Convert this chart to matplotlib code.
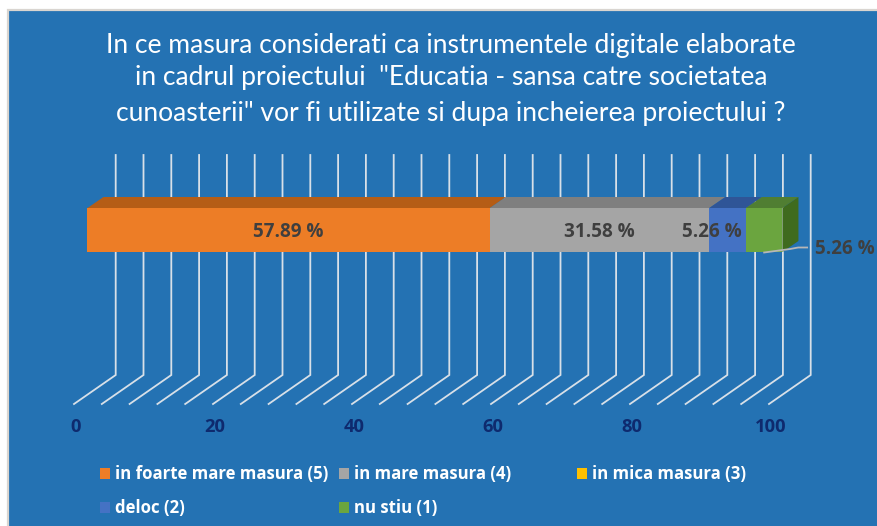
import matplotlib
matplotlib.use("Agg")
import matplotlib.pyplot as plt
from matplotlib.patches import Polygon, Rectangle

title_lines = ["In ce masura considerati ca instrumentele digitale elaborate",
               "in cadrul proiectului  \"Educatia - sansa catre societatea",
               "cunoasterii\" vor fi utilizate si dupa incheierea proiectului ?"]
categories = ["in foarte mare masura (5)", "in mare masura (4)", "in mica masura (3)", "deloc (2)", "nu stiu (1)"]
values = [57.89, 31.58, 0, 5.26, 5.26]
front_colors = ["#ED7D26", "#A5A5A5", "#FFC000", "#4472C4", "#6BA53F"]
top_colors = ["#B55D16", "#7F7F7F", "#BF9000", "#2F5597", "#507E32"]
x_ticks = [0, 20, 40, 60, 80, 100]
grid_values = list(range(0, 101, 4))

W, H = 878, 526
PX = 6.95  # pixels per value unit
X0 = 87.5  # pixel of value 0 on the bar front

fig = plt.figure(figsize=(W / 100, H / 100), dpi=100, facecolor="white")
ax = fig.add_axes([0, 0, 1, 1])
ax.set_xlim(-X0 / PX, (W - X0) / PX)
ax.set_ylim(H, 0)
ax.axis("off")

def u(px):
    return px / PX

# panel
ax.add_patch(Rectangle((u(8 - X0), 10), u(W + 5), H, fc="#2472B3", ec="#D9D5D0", lw=1.6, zorder=0))

# grid walls
for v in grid_values:
    ax.plot([v + u(-13.5), v + u(28.2), v + u(28.2)], [404, 375, 155],
            color="#D8E0E8", lw=1.3, zorder=1, solid_joinstyle="miter")

# stacked 3D bar
bar_top, bar_bottom = 208, 252
dx, dy = u(16), 11
left = 0.0
for val, fc, tc in zip(values, front_colors, top_colors):
    if val > 0:
        right = left + val
        ax.add_patch(Polygon([(left, bar_top), (left + dx, bar_top - dy), (right + dx, bar_top - dy), (right, bar_top)],
                             fc=tc, ec="none", zorder=2))
        ax.add_patch(Rectangle((left, bar_top), val, bar_bottom - bar_top, fc=fc, ec="none", zorder=3))
    left += val
ax.add_patch(Polygon([(left, bar_top), (left + dx, bar_top - dy), (left + dx, bar_bottom - dy), (left, bar_bottom)],
                     fc="#3F6B1E", ec="none", zorder=2))

# data labels
lab_c = "#3F3F3F"
lab_kw = dict(fontsize=13.6, fontweight="bold", color=lab_c, family="Open Sans", ha="center", va="center", zorder=6)
ax.text(values[0] / 2 + u(0), 232, f"{values[0]:.2f} %", **lab_kw)
ax.text(values[0] + values[1] / 2 + u(0), 232, f"{values[1]:.2f} %", **lab_kw)
ax.text(values[0] + values[1] + u(3), 232, f"{values[3]:.2f} %", **lab_kw)
ax.text(values[0] + values[1] + values[3] + values[4] + u(62), 249, f"{values[4]:.2f} %", **lab_kw)
end = values[0] + values[1] + values[3] + values[4] / 2
ax.plot([end, end + u(26), end + u(34), end + u(43)], [252.5, 249, 247.5, 247.5], color="#B7B7B7", lw=1.3, zorder=5)

# value axis labels
for t in x_ticks:
    ax.text(t + u(-11.8), 427.5, str(t), fontsize=13.2, fontweight="bold", color="#0E2A6E",
            family="Open Sans", ha="center", va="center")

# title
for line, y in zip(title_lines, [46, 77.5, 114]):
    ax.text(u(451 - X0), y, line, fontsize=19.1, color="white", family="Lato", ha="center", va="center")

# legend
slots = [(100, 473), (339, 473), (577, 473), (100, 507), (339, 507)]
for (px, py), name, col in zip(slots, categories, front_colors):
    ax.add_patch(Rectangle((u(px - X0), py - 5.5), u(10), 11, fc=col, ec="none", zorder=4))
    ax.text(u(px + 15 - X0), py + 0.8, name, fontsize=12.1, fontweight="bold", color="white",
            family="Open Sans", ha="left", va="center")

fig.savefig("out.png", dpi=100, facecolor="white")
